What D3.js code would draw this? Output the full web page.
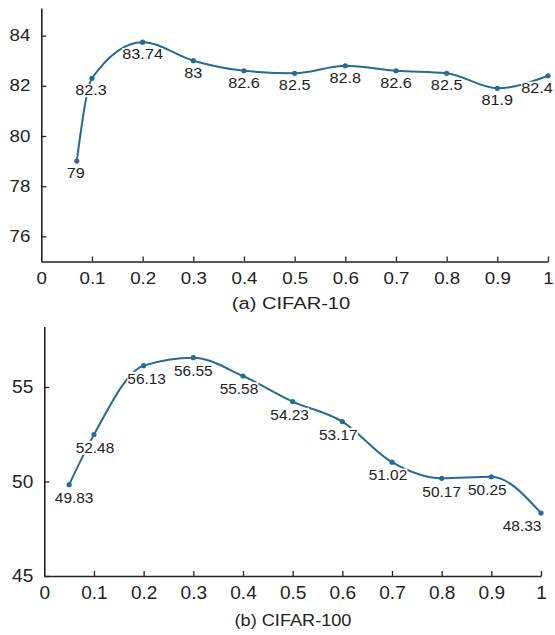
<!DOCTYPE html>
<html>
<head>
<meta charset="utf-8">
<script src="https://cdn.jsdelivr.net/npm/d3@7"></script>
<style>
  body { margin: 0; background: #fff; }
  svg { display: block; }
</style>
</head>
<body>
<svg id="chart" width="555" height="635"></svg>
<script>
// data
const ratioTop = [0.07, 0.1, 0.2, 0.3, 0.4, 0.5, 0.6, 0.7, 0.8, 0.9, 1];
const accTop = [79, 82.3, 83.74, 83, 82.6, 82.5, 82.8, 82.6, 82.5, 81.9, 82.4];
const labelTop = ["79", "82.3", "83.74", "83", "82.6", "82.5", "82.8", "82.6", "82.5", "81.9", "82.4"];

const ratioBottom = [0.05, 0.1, 0.2, 0.3, 0.4, 0.5, 0.6, 0.7, 0.8, 0.9, 1];
const accBottom = [49.83, 52.48, 56.13, 56.55, 55.58, 54.23, 53.17, 51.02, 50.17, 50.25, 48.33];
const labelBottom = ["49.83", "52.48", "56.13", "56.55", "55.58", "54.23", "53.17", "51.02", "50.17", "50.25", "48.33"];

const xTicks = [0, 0.1, 0.2, 0.3, 0.4, 0.5, 0.6, 0.7, 0.8, 0.9, 1];
const yTicksTop = [76, 78, 80, 82, 84];
const yTicksBottom = [45, 50, 55];

// small horizontal nudges of the value labels (px)
const nudgeTop = [-1, -1, 0, 0, 0, 0, 0, 0, 0, 0, -11];
const nudgeBottom = [5, 1, 3, 0, -4, -3, -4, -4, 0, -4, -19];

const lineColor = "#276a94";
const inkColor = "#222";
const font = "'Liberation Sans', Arial, Helvetica, sans-serif";

const svg = d3.select("#chart");

// the original figure is stretched sideways a bit, so text is too
function stretch(sel, k) {
  sel.each(function() {
    const x = +this.getAttribute("x") || 0;
    d3.select(this).attr("transform", `translate(${x * (1 - k)},0) scale(${k},1)`);
  });
}

function fmt(d) { return d3.format("~g")(d); }

function drawPanel(p) {
  const x = d3.scaleLinear().domain([0, 1]).range(p.xRange);
  const y = d3.scaleLinear().domain(p.yDomain).range(p.yRange);
  const g = svg.append("g");

  const xAxis = g.append("g")
    .attr("transform", `translate(0,${p.yRange[0]})`)
    .call(d3.axisBottom(x).tickValues(xTicks).tickFormat(fmt)
      .tickSizeInner(-5).tickSizeOuter(0).tickPadding(p.xPad));
  const yAxis = g.append("g")
    .attr("transform", `translate(${p.xRange[0]},0)`)
    .call(d3.axisLeft(y).tickValues(p.yTicks).tickFormat(fmt)
      .tickSizeInner(-5).tickSizeOuter(0).tickPadding(p.yPad));

  [xAxis, yAxis].forEach(a => {
    a.attr("font-family", font).attr("font-size", p.tickFont);
    a.select(".domain").attr("stroke", inkColor).attr("stroke-width", 1.6);
    a.selectAll(".tick line").attr("stroke", inkColor).attr("stroke-width", 1.3);
    a.selectAll(".tick text").attr("fill", inkColor).call(stretch, p.tickK);
  });
  // the 0 tick on the x axis sits on the y axis line
  xAxis.selectAll(".tick").filter(d => d === 0).select("line").remove();

  const pts = p.xs.map((d, i) => ({ x: d, y: p.ys[i], label: p.labels[i], dx: p.nudge[i] }));

  const line = d3.line().x(d => x(d.x)).y(d => y(d.y)).curve(d3.curveMonotoneX);
  g.append("path")
    .datum(pts)
    .attr("d", line)
    .attr("fill", "none")
    .attr("stroke", lineColor)
    .attr("stroke-width", 2);

  g.selectAll("circle")
    .data(pts)
    .join("circle")
    .attr("cx", d => x(d.x))
    .attr("cy", d => y(d.y))
    .attr("r", 2.6)
    .attr("fill", lineColor);

  // value labels with white boxes, they cut the curve like in the figure
  const lab = g.append("g").selectAll("g")
    .data(pts)
    .join("g");
  const txt = lab.append("text")
    .attr("x", d => x(d.x) + d.dx)
    .attr("y", d => y(d.y) + p.labelDy)
    .attr("dy", "0.35em")
    .attr("text-anchor", "middle")
    .attr("font-family", font)
    .attr("font-size", p.labelFont)
    .attr("fill", inkColor)
    .text(d => d.label);
  txt.each(function() {
    const b = this.getBBox();
    const cx = b.x + b.width / 2;
    const w = b.width * p.labelK;
    d3.select(this.parentNode).insert("rect", "text")
      .attr("x", cx - w / 2)
      .attr("y", b.y + 2)
      .attr("width", w)
      .attr("height", b.height - 3)
      .attr("fill", "#fff");
  });
  txt.call(stretch, p.labelK);

  g.append("text")
    .attr("x", p.caption[1])
    .attr("y", p.caption[2])
    .attr("text-anchor", "middle")
    .attr("font-family", font)
    .attr("font-size", p.captionFont)
    .attr("fill", inkColor)
    .text(p.caption[0])
    .call(stretch, p.captionK);
}

drawPanel({
  xs: ratioTop, ys: accTop, labels: labelTop, nudge: nudgeTop,
  xRange: [41.3, 548], yDomain: [75, 85.1], yRange: [261.5, 8],
  yTicks: yTicksTop,
  tickFont: 16, tickK: 1.17, xPad: 11.5, yPad: 11,
  labelFont: 14, labelK: 1.16, labelDy: 12,
  caption: ["(a) CIFAR-10", 291, 309], captionFont: 16.5, captionK: 1.22
});

drawPanel({
  xs: ratioBottom, ys: accBottom, labels: labelBottom, nudge: nudgeBottom,
  xRange: [44.3, 541], yDomain: [45, 58.2], yRange: [576, 326.5],
  yTicks: yTicksBottom,
  tickFont: 18, tickK: 1.06, xPad: 10, yPad: 11,
  labelFont: 15, labelK: 1.03, labelDy: 13,
  caption: ["(b) CIFAR-100", 293, 626.5], captionFont: 16.5, captionK: 1.1
});
</script>
</body>
</html>
